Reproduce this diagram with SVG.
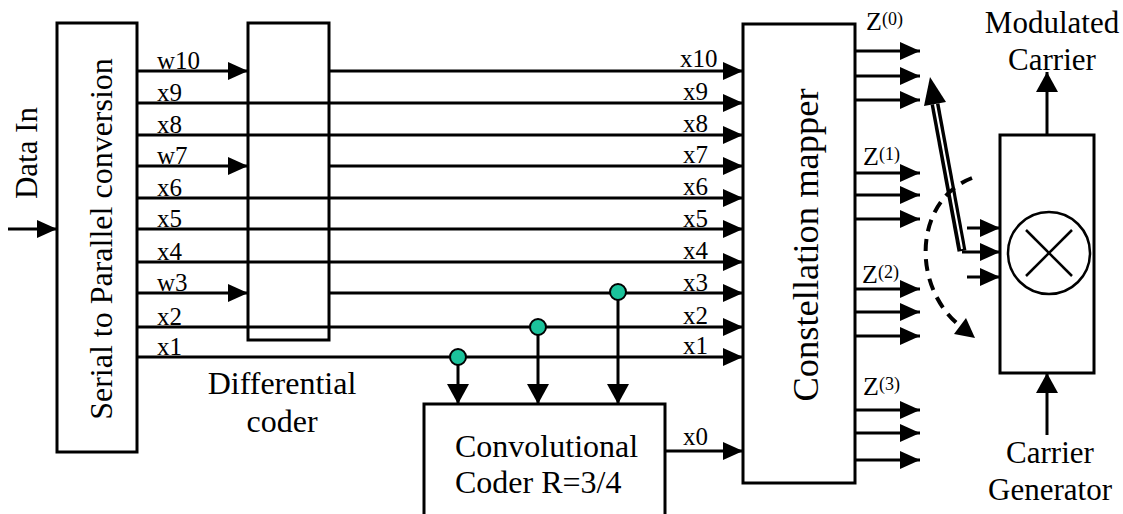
<svg xmlns="http://www.w3.org/2000/svg" width="1123" height="514" viewBox="0 0 1123 514" font-family="Liberation Serif, DejaVu Serif, serif">
<defs>
<marker id="ah" viewBox="0 0 20 18" refX="20" refY="9" markerWidth="20" markerHeight="18" markerUnits="userSpaceOnUse" orient="auto">
<path d="M0,0 L20,9 L0,18 z" fill="#000"/>
</marker>
<marker id="ahu" viewBox="0 0 20 22" refX="20" refY="11" markerWidth="20" markerHeight="22" markerUnits="userSpaceOnUse" orient="auto">
<path d="M0,0 L20,11 L0,22 z" fill="#000"/>
</marker>
</defs>
<style>
.box{fill:#fff;stroke:#000;stroke-width:3}
.ar{fill:none;stroke:#000;stroke-width:3;marker-end:url(#ah)}
.au{fill:none;stroke:#000;stroke-width:3;marker-end:url(#ahu)}
text{font-family:'Liberation Serif','DejaVu Serif',serif;fill:#000}
.lbl{font-size:25px}
.big{font-size:31px}
.bigger{font-size:32px}
.z{font-size:26px}
.dot{fill:#1BC39B;stroke:#000;stroke-width:2}
</style>
<rect width="1123" height="514" fill="#fff"/>

<g id="serial-to-parallel">
<rect class="box" x="57" y="23" width="80" height="429"/>
<text class="bigger" text-anchor="middle" transform="translate(112,239) rotate(-90)">Serial to Parallel conversion</text>
</g>

<g id="differential-coder">
<rect class="box" x="248" y="23" width="81" height="317"/>
<text class="bigger" x="282" y="394" text-anchor="middle">Differential</text>
<text class="bigger" x="282" y="432" text-anchor="middle">coder</text>
</g>

<g id="constellation-mapper">
<rect class="box" x="743" y="24" width="112" height="459"/>
<text class="big" text-anchor="middle" transform="translate(818,245) rotate(-90)" style="font-size:36.5px">Constellation mapper</text>
</g>

<g id="convolutional-coder">
<rect class="box" x="424" y="404" width="241" height="125"/>
<text class="bigger" x="455" y="457">Convolutional</text>
<text class="bigger" x="455" y="493">Coder R=3/4</text>
</g>

<g id="modulator">
<rect class="box" x="1000" y="135" width="94" height="238"/>
<circle cx="1049" cy="253" r="41" fill="none" stroke="#000" stroke-width="2.5"/>
<line x1="1026" y1="230" x2="1072" y2="276" stroke="#000" stroke-width="2.5"/>
<line x1="1072" y1="230" x2="1026" y2="276" stroke="#000" stroke-width="2.5"/>
</g>

<g id="data-in">
<text class="big" text-anchor="middle" transform="translate(37,153) rotate(-90)">Data In</text>
</g>

<g id="modulated-carrier">
<text class="big" x="1052" y="33" text-anchor="middle">Modulated</text>
<text class="big" x="1052" y="70" text-anchor="middle">Carrier</text>
</g>

<g id="carrier-generator">
<text class="big" x="1050" y="463" text-anchor="middle">Carrier</text>
<text class="big" x="1050" y="500" text-anchor="middle">Generator</text>
</g>

<g id="connectors">
<line class="ar" x1="8" y1="229" x2="57" y2="229"/>
<line class="ar" x1="137" y1="71" x2="248" y2="71"/>
<line class="ar" x1="329" y1="71" x2="743" y2="71"/>
<line class="ar" x1="137" y1="103" x2="743" y2="103"/>
<line class="ar" x1="137" y1="135" x2="743" y2="135"/>
<line class="ar" x1="137" y1="166" x2="248" y2="166"/>
<line class="ar" x1="329" y1="166" x2="743" y2="166"/>
<line class="ar" x1="137" y1="198" x2="743" y2="198"/>
<line class="ar" x1="137" y1="229" x2="743" y2="229"/>
<line class="ar" x1="137" y1="262" x2="743" y2="262"/>
<line class="ar" x1="137" y1="293" x2="248" y2="293"/>
<line class="ar" x1="329" y1="293" x2="743" y2="293"/>
<line class="ar" x1="137" y1="327" x2="743" y2="327"/>
<line class="ar" x1="137" y1="357" x2="743" y2="357"/>
<line class="ar" x1="665" y1="451" x2="743" y2="451"/>

<line class="au" x1="458" y1="357" x2="458" y2="404"/>
<line class="au" x1="538" y1="327" x2="538" y2="404"/>
<line class="au" x1="618" y1="293" x2="618" y2="404"/>
<circle class="dot" cx="458" cy="357" r="8"/>
<circle class="dot" cx="538" cy="327" r="8"/>
<circle class="dot" cx="618" cy="292" r="8"/>

<line class="ar" x1="855" y1="51" x2="920" y2="51"/>
<line class="ar" x1="855" y1="76" x2="920" y2="76"/>
<line class="ar" x1="855" y1="100" x2="920" y2="100"/>
<line class="ar" x1="855" y1="173" x2="920" y2="173"/>
<line class="ar" x1="855" y1="195" x2="920" y2="195"/>
<line class="ar" x1="855" y1="219" x2="920" y2="219"/>
<line class="ar" x1="855" y1="289" x2="920" y2="289"/>
<line class="ar" x1="855" y1="312" x2="920" y2="312"/>
<line class="ar" x1="855" y1="336" x2="920" y2="336"/>
<line class="ar" x1="855" y1="410" x2="920" y2="410"/>
<line class="ar" x1="855" y1="433" x2="920" y2="433"/>
<line class="ar" x1="855" y1="460" x2="920" y2="460"/>

<line class="ar" x1="967" y1="228" x2="1000" y2="228"/>
<line class="ar" x1="962" y1="252" x2="1000" y2="252"/>
<line class="ar" x1="967" y1="277" x2="1000" y2="277"/>

<line class="au" x1="1047" y1="135" x2="1047" y2="72"/>
<line class="au" x1="1047" y1="435" x2="1047" y2="373"/>

<line x1="962" y1="251" x2="935" y2="104" stroke="#000" stroke-width="9"/>
<line x1="962" y1="249" x2="935" y2="104" stroke="#fff" stroke-width="2"/>
<polygon points="930,77 946,102 924,106" fill="#000"/>

<path d="M972,178 C915,200 910,285 960,326" fill="none" stroke="#000" stroke-width="4" stroke-dasharray="12 8"/>
<polygon points="975,338 954,334 966,318" fill="#000"/>
</g>

<g id="labels">
<text class="lbl" x="157" y="69">w10</text>
<text class="lbl" x="157" y="101">x9</text>
<text class="lbl" x="157" y="133">x8</text>
<text class="lbl" x="157" y="164">w7</text>
<text class="lbl" x="157" y="196">x6</text>
<text class="lbl" x="157" y="227">x5</text>
<text class="lbl" x="157" y="260">x4</text>
<text class="lbl" x="157" y="291">w3</text>
<text class="lbl" x="157" y="325">x2</text>
<text class="lbl" x="157" y="355">x1</text>
<text class="lbl" x="680" y="67">x10</text>
<text class="lbl" x="683" y="100">x9</text>
<text class="lbl" x="683" y="132">x8</text>
<text class="lbl" x="683" y="163">x7</text>
<text class="lbl" x="683" y="195">x6</text>
<text class="lbl" x="683" y="227">x5</text>
<text class="lbl" x="683" y="259">x4</text>
<text class="lbl" x="683" y="291">x3</text>
<text class="lbl" x="683" y="324">x2</text>
<text class="lbl" x="683" y="354">x1</text>
<text class="lbl" x="683" y="445">x0</text>
<text class="z" x="866" y="30">Z<tspan font-size="18" dy="-5">(0)</tspan></text>
<text class="z" x="863" y="165">Z<tspan font-size="18" dy="-5">(1)</tspan></text>
<text class="z" x="862" y="283">Z<tspan font-size="18" dy="-5">(2)</tspan></text>
<text class="z" x="863" y="395">Z<tspan font-size="18" dy="-5">(3)</tspan></text>
</g>
</svg>
